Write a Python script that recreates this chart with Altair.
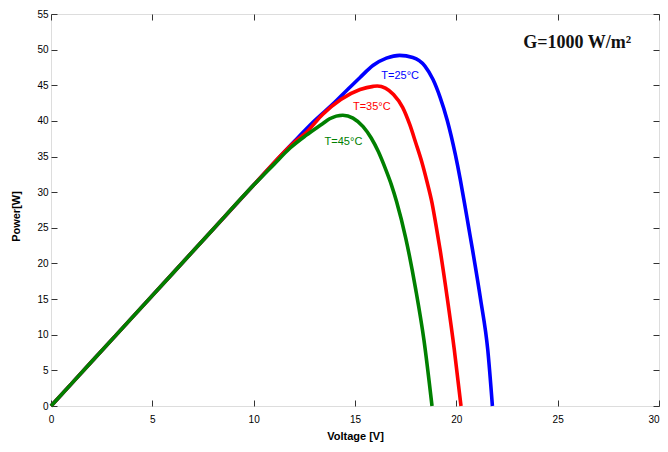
import altair as alt
import pandas as pd

# ---- data ----
v25 = [0, 2, 4, 6, 8, 10, 12, 13, 14, 14.6, 15.25, 15.9, 16.55, 17.2, 17.85, 18.45, 18.85, 19.2, 19.55, 19.95, 20.2, 20.4, 20.6, 20.8, 21.2, 21.55, 21.78]
p25 = [0, 6.2, 12.4, 18.6, 24.8, 31.0, 37.1, 40.0, 42.6, 44.3, 46.1, 47.8, 48.8, 49.2, 48.9, 47.7, 45.8, 43.3, 40.1, 35.3, 31.7, 28.5, 25.2, 21.9, 14.9, 7.9, 0]

v35 = [0, 2, 4, 6, 8, 10, 12, 12.6, 13.4, 14.3, 15.25, 15.9, 16.1, 16.5, 16.9, 17.35, 17.7, 18.0, 18.3, 18.55, 18.8, 19.0, 19.2, 19.55, 19.9, 20.23]
p35 = [0, 6.2, 12.4, 18.6, 24.8, 31.0, 37.0, 38.4, 40.9, 43.0, 44.4, 44.85, 44.9, 44.6, 43.7, 41.9, 39.5, 36.9, 34.2, 31.5, 28.5, 25.3, 21.9, 15.2, 7.9, 0]

v45 = [0, 2, 4, 6, 8, 10, 11, 11.8, 12.6, 13.4, 13.75, 14.4, 14.9, 15.4, 15.8, 16.15, 16.5, 16.8, 17.05, 17.5, 18.0, 18.4, 18.8]
p45 = [0, 6.2, 12.4, 18.6, 24.8, 31.0, 33.9, 36.2, 38.0, 39.6, 40.3, 40.8, 40.4, 39.2, 37.6, 35.7, 33.3, 31.0, 28.7, 23.6, 16.3, 9.3, 0]

x_ticks = [0, 5, 10, 15, 20, 25, 30]
y_ticks = [0, 5, 10, 15, 20, 25, 30, 35, 40, 45, 50, 55]

curve_labels = ["T=25\u00b0C", "T=35\u00b0C", "T=45\u00b0C"]
label_v = [16.3, 14.9, 13.5]
label_p = [46.3, 41.9, 37.0]
curve_colors = ["#0000FF", "#FF0000", "#008000"]

note_text = ["G=1000 W/m\u00b2"]
note_v = [23.3]
note_p = [50.9]

W, H = 608, 392

xs = alt.Scale(domain=[0, 30], nice=False)
ys = alt.Scale(domain=[0, 55], nice=False)

df25 = pd.DataFrame({"V": v25, "P": p25})
df35 = pd.DataFrame({"V": v35, "P": p35})
df45 = pd.DataFrame({"V": v45, "P": p45})


def line(df, color, with_axes=False):
    if with_axes:
        xa = alt.Axis(orient="bottom", values=x_ticks, ticks=False, tickSize=0, domain=False,
                      labelPadding=8, labelOverlap=False, labelFlush=False, grid=False,
                      labelAlign=alt.expr("datum.value === 30 ? 'right' : 'center'"),
                      titleX=304, titleY=30, titleBaseline="middle")
        ya = alt.Axis(orient="left", values=y_ticks, ticks=False, tickSize=0, domain=False,
                      labelPadding=3, labelOverlap=False, labelFlush=False, grid=False,
                      titleX=-35, titleY=202, titleBaseline="middle")
        x = alt.X("V:Q", scale=xs, title="Voltage [V]", axis=xa)
        y = alt.Y("P:Q", scale=ys, title="Power[W]", axis=ya)
    else:
        x = alt.X("V:Q", scale=xs, axis=None)
        y = alt.Y("P:Q", scale=ys, axis=None)
    return alt.Chart(df).mark_line(color=color, strokeWidth=3.6, interpolate="monotone").encode(x=x, y=y)


def tick_layer(xorient, yorient):
    xa = alt.Axis(orient=xorient, offset=-H, values=x_ticks, labels=False, domain=False,
                  ticks=True, tickSize=6, tickColor="#333333", grid=False)
    ya = alt.Axis(orient=yorient, offset=-W, values=y_ticks, labels=False, domain=False,
                  ticks=True, tickSize=6, tickColor="#333333", grid=False)
    return alt.Chart(df45).mark_line(opacity=0).encode(
        x=alt.X("V:Q", scale=xs, title=None, axis=xa),
        y=alt.Y("P:Q", scale=ys, title=None, axis=ya),
    )


lab_df = pd.DataFrame({"V": label_v, "P": label_p, "t": curve_labels, "c": curve_colors})
labels = alt.Chart(lab_df).mark_text(align="left", baseline="middle", font="Liberation Sans",
                                     fontSize=11).encode(
    x=alt.X("V:Q", scale=xs, axis=None),
    y=alt.Y("P:Q", scale=ys, axis=None),
    text="t:N",
    color=alt.Color("c:N", scale=None),
)

note_df = pd.DataFrame({"V": note_v, "P": note_p, "t": note_text})
note = alt.Chart(note_df).mark_text(align="left", baseline="middle", font="Liberation Serif",
                                    fontSize=18, fontWeight="bold", color="#111111").encode(
    x=alt.X("V:Q", scale=xs, axis=None),
    y=alt.Y("P:Q", scale=ys, axis=None),
    text="t:N",
)

chart = alt.layer(
    line(df25, curve_colors[0], with_axes=True),
    line(df35, curve_colors[1]),
    line(df45, curve_colors[2]),
    tick_layer("top", "right"),
    tick_layer("bottom", "left"),
    labels,
    note,
).resolve_axis(x="independent", y="independent").properties(
    width=W, height=H,
    autosize=alt.AutoSizeParams(type="none"),
    padding={"left": 43, "top": 6, "right": 1, "bottom": 36},
).configure_view(
    stroke="#333333", strokeWidth=1.5
).configure_axis(
    labelFont="Liberation Sans", labelFontSize=13, labelColor="#222222",
    titleFont="Liberation Sans", titleFontSize=14, titleFontWeight="bold", titleColor="#222222",
).configure(background="white")

chart.save("out.html", embed_options={"renderer": "svg", "actions": False})
